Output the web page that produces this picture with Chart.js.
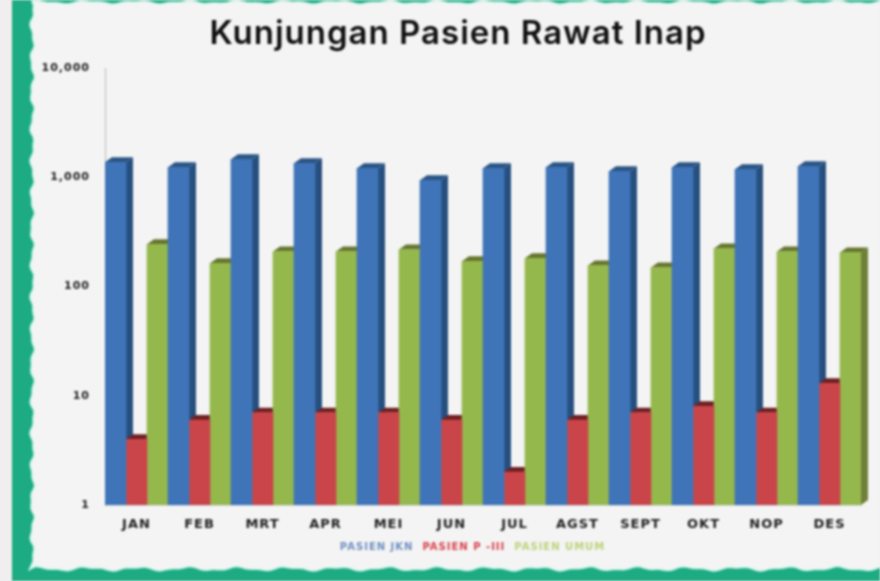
<!DOCTYPE html>
<html>
<head>
<meta charset="utf-8">
<script src="https://cdn.jsdelivr.net/npm/chart.js@4"></script>
<style>
html, body { margin: 0; padding: 0; background: #f0eeee; overflow: hidden; }
#wrap { position: relative; width: 880px; height: 581px; }
canvas { filter: blur(0.8px); }
</style>
</head>
<body>
<div id="wrap"><canvas id="chart"></canvas></div>
<script>
// Values
const months = ['JAN', 'FEB', 'MRT', 'APR', 'MEI', 'JUN', 'JUL', 'AGST', 'SEPT', 'OKT', 'NOP', 'DES'];
const pasienJkn = [1372, 1235, 1462, 1344, 1210, 938, 1210, 1235, 1135, 1235, 1184, 1262];
const pasienP3 = [4, 6, 7, 7, 7, 6, 2, 6, 7, 8, 7, 13];
const pasienUmum = [243, 163, 209, 209, 218, 170, 181, 156, 149, 223, 209, 205];
const yTicks = [1, 10, 100, 1000, 10000];

const FRONT = ['#3f74b8', '#c9454a', '#95b84d'];
const SIDE = ['#264f7e', '#7d2a2c', '#6e8038'];
const TOP = ['#2a5585', '#6f2022', '#66762f'];
const LEGEND_TEXT = ['#6d8fc0', '#d8404a', '#bcd27a'];
const DEPTH_X = 7, DEPTH_Y = 5;

// the original lettering is wide, no installed font has that so space it out
function spaceLetters(chart) {
    chart.ctx.letterSpacing = '1px';
}

// green frame with the torn looking inner edge
function wave(p, period, amp) {
    return amp * Math.sin(p / period * 6.283) + amp * 0.5 * Math.sin(p / period * 14.1 + 1);
}
const framePlugin = {
    id: 'frame',
    beforeLayout: spaceLetters,
    beforeDraw(chart) {
        const ctx = chart.ctx;
        spaceLetters(chart);
        // title and legend are not centred on the canvas in the original
        chart.titleBlock.left = 36; chart.titleBlock.right = 880;
        chart.legend.left = 60; chart.legend.right = 880;
        ctx.save();
        ctx.fillStyle = '#f0eeee';
        ctx.fillRect(0, 0, 880, 581);
        ctx.fillStyle = '#1cab82';
        ctx.fillRect(12, 0, 868, 581);
        ctx.beginPath();
        ctx.moveTo(33, 3);
        for (let x = 33; x <= 890; x += 3) ctx.lineTo(x, 3 + wave(x, 50, 1.2));
        ctx.lineTo(890, 568);
        for (let x = 890; x >= 33; x -= 3) ctx.lineTo(x, 568 + wave(x, 50, 1.5));
        for (let y = 568; y >= 3; y -= 3) ctx.lineTo(33 + wave(y, 34, 1.6), y);
        ctx.closePath();
        ctx.strokeStyle = '#c5f3e6';
        ctx.lineWidth = 3;
        ctx.stroke();
        ctx.fillStyle = '#f4f4f4';
        ctx.fill();
        ctx.restore();
    }
};

// 3D sides and tops, the flat bar fronts are painted over them by Chart.js
const depthPlugin = {
    id: 'depth',
    beforeDatasetsDraw(chart) {
        const ctx = chart.ctx;
        ctx.save();
        months.forEach((m, i) => {
            chart.data.datasets.forEach((ds, d) => {
                const el = chart.getDatasetMeta(d).data[i];
                const right = el.x + el.width / 2, left = el.x - el.width / 2;
                ctx.fillStyle = SIDE[d];
                ctx.beginPath();
                ctx.moveTo(right, el.y);
                ctx.lineTo(right + DEPTH_X, el.y - DEPTH_Y);
                ctx.lineTo(right + DEPTH_X, el.base - DEPTH_Y);
                ctx.lineTo(right, el.base);
                ctx.closePath();
                ctx.fill();
                ctx.fillStyle = TOP[d];
                ctx.beginPath();
                ctx.moveTo(left, el.y);
                ctx.lineTo(left + DEPTH_X, el.y - DEPTH_Y);
                ctx.lineTo(right + DEPTH_X, el.y - DEPTH_Y);
                ctx.lineTo(right, el.y);
                ctx.closePath();
                ctx.fill();
            });
        });
        ctx.restore();
    }
};

new Chart(document.getElementById('chart'), {
    type: 'bar',
    data: {
        labels: months,
        datasets: [
            { label: 'PASIEN JKN', data: pasienJkn, backgroundColor: FRONT[0] },
            { label: 'PASIEN P -III', data: pasienP3, backgroundColor: FRONT[1] },
            { label: 'PASIEN UMUM', data: pasienUmum, backgroundColor: FRONT[2] }
        ]
    },
    options: {
        responsive: true,
        maintainAspectRatio: false,
        animation: false,
        layout: { padding: { left: 0, right: 19, top: 0, bottom: 19 } },
        datasets: { bar: { barPercentage: 1, categoryPercentage: 1 } },
        plugins: {
            title: {
                display: true,
                text: 'Kunjungan Pasien Rawat Inap',
                color: '#111111',
                font: { family: 'Inter', size: 33, weight: '600', lineHeight: 1.2 },
                padding: { top: 14, bottom: 14.4 }
            },
            legend: {
                position: 'bottom',
                labels: {
                    boxWidth: 0,
                    boxHeight: 0,
                    padding: 4,
                    font: { family: 'DejaVu Sans', size: 10, weight: 'bold' },
                    generateLabels(chart) {
                        return chart.data.datasets.map((ds, d) => ({
                            text: ds.label,
                            fontColor: LEGEND_TEXT[d],
                            fillStyle: 'transparent',
                            strokeStyle: 'transparent',
                            lineWidth: 0,
                            datasetIndex: d
                        }));
                    }
                }
            },
            tooltip: { enabled: false }
        },
        scales: {
            x: {
                grid: { display: false, drawTicks: false },
                border: { color: '#d4d8e0' },
                ticks: {
                    color: '#222222',
                    font: { family: 'DejaVu Sans', size: 13, weight: 'bold' },
                    padding: 12,
                    maxRotation: 0,
                    autoSkip: false
                },
                afterFit(scale) { scale.height = 33; }
            },
            y: {
                type: 'logarithmic',
                min: 1,
                max: 10000,
                grid: { display: false, drawTicks: false },
                border: { color: '#b8b8b8' },
                afterBuildTicks(scale) { scale.ticks = yTicks.map(v => ({ value: v })); },
                ticks: {
                    color: '#222222',
                    font: { family: 'DejaVu Sans', size: 11, weight: 'bold' },
                    padding: 15,
                    callback: v => v.toLocaleString('en-US')
                },
                afterFit(scale) { scale.width = 105; }
            }
        }
    },
    plugins: [framePlugin, depthPlugin]
});
</script>
</body>
</html>
